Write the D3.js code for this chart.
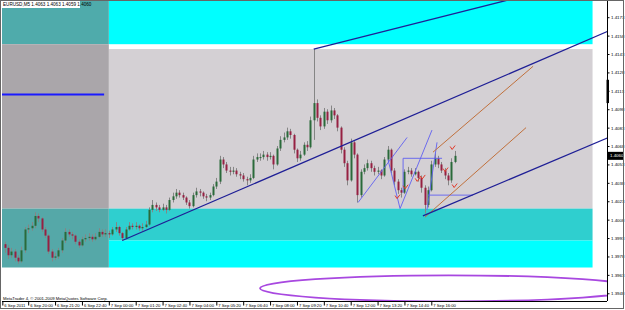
<!DOCTYPE html>
<html>
<head>
<meta charset="utf-8">
<script src="https://cdn.jsdelivr.net/npm/d3@7"></script>
<style>
  body { margin: 0; background: #fff; }
  svg { display: block; }
  text { font-family: "Liberation Sans", Arial, sans-serif; }
</style>
</head>
<body>
<svg id="chart" width="625" height="310"></svg>
<script>
// EURUSD M5, 6-7 Sep 2011 (bars grouped by 10 minutes)
var barStart = "2011-09-06 18:50";
var opens = [
  1.3988,1.3985,1.3979,1.3982,1.3977,1.3974,1.3983,1.4000,1.4001,1.4003,
  1.4011,1.4009,1.4000,1.3995,1.3982,1.3977,1.3978,1.3983,1.3991,1.3998,
  1.3996,1.3995,1.3990,1.3987,1.3992,1.3993,1.3994,1.3992,1.3994,1.3998,
  1.3996,1.3997,1.3996,1.4000,1.4002,1.3997,1.3993,1.4000,1.4003,1.4002,
  1.4003,1.4001,1.4002,1.4004,1.4016,1.4020,1.4018,1.4016,1.4018,1.4016,
  1.4024,1.4027,1.4030,1.4028,1.4026,1.4022,1.4019,1.4028,1.4031,1.4030,
  1.4027,1.4026,1.4028,1.4035,1.4039,1.4057,1.4053,1.4048,1.4047,1.4048,
  1.4045,1.4044,1.4041,1.4040,1.4042,1.4057,1.4059,1.4059,1.4061,1.4059,
  1.4060,1.4053,1.4066,1.4073,1.4075,1.4080,1.4077,1.4065,1.4058,1.4061,
  1.4069,1.4067,1.4089,1.4103,1.4091,1.4084,1.4096,1.4089,1.4097,1.4093,
  1.4083,1.4065,1.4054,1.4040,1.4071,1.4061,1.4028,1.4047,1.4050,1.4054,
  1.4050,1.4047,1.4048,1.4044,1.4057,1.4065,1.4048,1.4039,1.4032,1.4030,
  1.4047,1.4048,1.4045,1.4047,1.4042,1.4034,1.4020,1.4032,1.4053,1.4058,
  1.4053,1.4048,1.4044,1.4040,1.4055
];
var highs = [
  1.3990,1.3987,1.3985,1.3984,1.3979,1.3986,1.4002,1.4004,1.4006,1.4014,
  1.4013,1.4010,1.4002,1.3996,1.3984,1.3981,1.3985,1.3993,1.4001,1.4000,
  1.3998,1.3996,1.3992,1.3994,1.3996,1.3997,1.3996,1.3997,1.4001,1.4000,
  1.4000,1.3999,1.4002,1.4006,1.4003,1.3998,1.4002,1.4006,1.4005,1.4006,
  1.4004,1.4005,1.4007,1.4018,1.4024,1.4022,1.4020,1.4021,1.4020,1.4026,
  1.4030,1.4033,1.4032,1.4030,1.4027,1.4024,1.4030,1.4034,1.4033,1.4031,
  1.4029,1.4030,1.4037,1.4042,1.4060,1.4059,1.4055,1.4051,1.4051,1.4050,
  1.4047,1.4046,1.4043,1.4045,1.4060,1.4062,1.4062,1.4064,1.4063,1.4063,
  1.4061,1.4068,1.4076,1.4079,1.4083,1.4082,1.4078,1.4066,1.4064,1.4071,
  1.4072,1.4092,1.4147,1.4106,1.4093,1.4099,1.4098,1.4101,1.4099,1.4094,
  1.4084,1.4067,1.4056,1.4074,1.4072,1.4062,1.4049,1.4053,1.4057,1.4056,
  1.4052,1.4051,1.4049,1.4059,1.4068,1.4066,1.4050,1.4041,1.4034,1.4049,
  1.4051,1.4050,1.4050,1.4048,1.4044,1.4036,1.4035,1.4056,1.4062,1.4060,
  1.4055,1.4050,1.4046,1.4058,1.4064
];
var lows = [
  1.3981,1.3976,1.3977,1.3974,1.3972,1.3973,1.3981,1.3997,1.3999,1.4001,
  1.4006,1.3998,1.3993,1.3980,1.3974,1.3975,1.3976,1.3981,1.3989,1.3994,
  1.3992,1.3988,1.3985,1.3986,1.3990,1.3991,1.3990,1.3991,1.3993,1.3994,
  1.3994,1.3993,1.3995,1.3998,1.3995,1.3991,1.3992,1.3999,1.4000,1.4000,
  1.3999,1.3999,1.4001,1.4003,1.4014,1.4015,1.4014,1.4015,1.4013,1.4015,
  1.4022,1.4025,1.4026,1.4024,1.4020,1.4017,1.4018,1.4026,1.4027,1.4025,
  1.4023,1.4024,1.4027,1.4033,1.4037,1.4050,1.4046,1.4044,1.4045,1.4043,
  1.4041,1.4039,1.4036,1.4038,1.4041,1.4055,1.4056,1.4057,1.4056,1.4057,
  1.4049,1.4052,1.4064,1.4071,1.4073,1.4074,1.4062,1.4055,1.4056,1.4060,
  1.4064,1.4066,1.4073,1.4088,1.4081,1.4082,1.4086,1.4087,1.4090,1.4080,
  1.4062,1.4051,1.4036,1.4039,1.4058,1.4022,1.4026,1.4045,1.4048,1.4047,
  1.4044,1.4045,1.4041,1.4043,1.4055,1.4046,1.4036,1.4029,1.4026,1.4029,
  1.4045,1.4043,1.4044,1.4039,1.4030,1.4013,1.4018,1.4031,1.4051,1.4050,
  1.4046,1.4041,1.4036,1.4038,1.4054
];
var closes = [
  1.3985,1.3979,1.3982,1.3977,1.3974,1.3983,1.4000,1.4001,1.4003,1.4011,
  1.4009,1.4000,1.3995,1.3982,1.3977,1.3978,1.3983,1.3991,1.3998,1.3996,
  1.3995,1.3990,1.3987,1.3992,1.3993,1.3994,1.3992,1.3994,1.3998,1.3996,
  1.3997,1.3996,1.4000,1.4002,1.3997,1.3993,1.4000,1.4003,1.4002,1.4003,
  1.4001,1.4002,1.4004,1.4016,1.4020,1.4018,1.4016,1.4018,1.4016,1.4024,
  1.4027,1.4030,1.4028,1.4026,1.4022,1.4019,1.4028,1.4031,1.4030,1.4027,
  1.4026,1.4028,1.4035,1.4039,1.4057,1.4053,1.4048,1.4047,1.4048,1.4045,
  1.4044,1.4041,1.4040,1.4042,1.4057,1.4059,1.4059,1.4061,1.4059,1.4060,
  1.4053,1.4066,1.4073,1.4075,1.4080,1.4077,1.4065,1.4058,1.4061,1.4069,
  1.4067,1.4089,1.4103,1.4091,1.4084,1.4096,1.4089,1.4097,1.4093,1.4083,
  1.4065,1.4054,1.4040,1.4071,1.4061,1.4028,1.4047,1.4050,1.4054,1.4050,
  1.4047,1.4048,1.4044,1.4057,1.4065,1.4048,1.4039,1.4032,1.4030,1.4047,
  1.4048,1.4045,1.4047,1.4042,1.4034,1.4020,1.4032,1.4053,1.4058,1.4053,
  1.4048,1.4044,1.4040,1.4055,1.4060
];

// axis labels
var priceTicks = [1.4173,1.4158,1.4143,1.4128,1.4113,1.4098,1.4083,1.4068,
                  1.4053,1.4038,1.4023,1.4008,1.3993,1.3978,1.3963,1.3948];
var timeTicks = ["2011-09-06 18:43","2011-09-06 20:00","2011-09-06 21:20","2011-09-06 22:40",
  "2011-09-07 00:00","2011-09-07 01:20","2011-09-07 02:40","2011-09-07 04:00",
  "2011-09-07 05:20","2011-09-07 06:40","2011-09-07 08:00","2011-09-07 09:20",
  "2011-09-07 10:40","2011-09-07 12:00","2011-09-07 13:20","2011-09-07 14:40","2011-09-07 16:00"];
var timeLabels = ["6 Sep 2011","6 Sep 20:00","6 Sep 21:20","6 Sep 22:40",
  "7 Sep 00:00","7 Sep 01:20","7 Sep 02:40","7 Sep 04:00",
  "7 Sep 05:20","7 Sep 06:40","7 Sep 08:00","7 Sep 09:20",
  "7 Sep 10:40","7 Sep 12:00","7 Sep 13:20","7 Sep 14:40","7 Sep 16:00"];
var lastPrice = 1.4060;
var header = "EURUSD,M5  1.4063 1.4063 1.4059 1.4060";

// drawn objects: rectangles [from, to, price low, price high]
var zoneTimes = [
  ["2011-09-07 00:00", "2011-09-08 00:00", 1.4151, 1.4200],
  ["2011-09-07 00:00", "2011-09-08 00:00", 1.4017, 1.4147],
  ["2011-09-07 00:00", "2011-09-08 00:00", 1.3991, 1.4017],
  ["2011-09-07 00:00", "2011-09-08 00:00", 1.3969, 1.3991],
  ["2011-09-06 18:00", "2011-09-07 00:00", 1.4151, 1.4200],
  ["2011-09-06 18:00", "2011-09-07 00:00", 1.4017, 1.4151],
  ["2011-09-06 18:00", "2011-09-07 00:00", 1.3969, 1.4017]
];
var zoneColors = ["#00ffff", "#d4d0d4", "#2fcfcf", "#00ffff", "#4fabab", "#aaa6aa", "#55a8a8"];

// trend lines [t1, p1, t2, p2]
var channelLines = [
  ["2011-09-07 10:10", 1.4147, "2011-09-07 19:16", 1.4185],
  ["2011-09-07 00:40", 1.3991, "2011-09-07 16:00", 1.4100],
  ["2011-09-07 15:35", 1.4011, "2011-09-07 20:00", 1.4042]
];
var forkLines = [
  ["2011-09-07 16:05", 1.4063, "2011-09-07 21:03", 1.4133],
  ["2011-09-07 15:41", 1.4010, "2011-09-07 20:42", 1.4083]
];
var thinLines = [
  ["2011-09-07 12:22", 1.4022, "2011-09-07 14:48", 1.4075],
  ["2011-09-07 13:51", 1.4057, "2011-09-07 14:27", 1.4017],
  ["2011-09-07 14:27", 1.4017, "2011-09-07 16:02", 1.4081],
  ["2011-09-07 15:47", 1.4016, "2011-09-07 16:17", 1.4071],
  ["2011-09-07 14:36", 1.4058, "2011-09-07 16:32", 1.4058],
  ["2011-09-07 14:36", 1.4058, "2011-09-07 14:36", 1.4030],
  ["2011-09-07 15:50", 1.4028, "2011-09-07 18:04", 1.4028]
];
var levelLine = ["2011-09-06 18:00", "2011-09-06 23:46", 1.4110];
var ellipse = ["2011-09-07 07:30", "2011-09-08 02:15", 1.3952, 0.00106];
var arrowTimes = ["2011-09-07 14:18","2011-09-07 14:42","2011-09-07 15:18","2011-09-07 15:33",
                  "2011-09-07 16:41","2011-09-07 17:02","2011-09-07 17:08"];
var arrowPrices = [1.4026, 1.4034, 1.4040, 1.4042, 1.4048, 1.4066, 1.4035];

var parse = d3.timeParse("%Y-%m-%d %H:%M");
var svg = d3.select("#chart");

var x = d3.scaleTime()
    .domain([parse("2011-09-06 18:42"), parse("2011-09-08 00:43")])
    .range([2, 607]);
var y = d3.scaleLinear().domain([1.39417, 1.41862]).range([301, 1]);

var bars = closes.map(function (c, i) {
    return { t: d3.timeMinute.offset(parse(barStart), 10 * i), o: opens[i], h: highs[i], l: lows[i], c: c };
});

svg.append("defs").append("clipPath").attr("id", "plot")
    .append("rect").attr("x", 2).attr("y", 1).attr("width", 605).attr("height", 300);

var plot = svg.append("g").attr("clip-path", "url(#plot)");

// rectangles
plot.selectAll(".zone").data(zoneTimes).enter().append("rect")
    .attr("x", function (d) { return x(parse(d[0])); })
    .attr("width", function (d) { return x(parse(d[1])) - x(parse(d[0])); })
    .attr("y", function (d) { return y(d[3]); })
    .attr("height", function (d) { return y(d[2]) - y(d[3]); })
    .attr("fill", function (d, i) { return zoneColors[i]; });

plot.append("line")
    .attr("x1", x(parse(levelLine[0]))).attr("x2", x(parse(levelLine[1])))
    .attr("y1", y(levelLine[2])).attr("y2", y(levelLine[2]))
    .attr("stroke", "#1a1aff").attr("stroke-width", 2);

// candles
var candle = plot.selectAll(".bar").data(bars).enter().append("g").attr("class", "bar");
candle.append("line")
    .attr("x1", function (d) { return Math.round(x(d.t)) + 0.5; })
    .attr("x2", function (d) { return Math.round(x(d.t)) + 0.5; })
    .attr("y1", function (d) { return y(d.h); })
    .attr("y2", function (d) { return y(d.l); })
    .attr("stroke", "#858585").attr("stroke-width", 1);
candle.append("rect")
    .attr("x", function (d) { return Math.round(x(d.t)) - 0.5; })
    .attr("width", 2)
    .attr("y", function (d) { return y(Math.max(d.o, d.c)); })
    .attr("height", function (d) { return Math.max(1, y(Math.min(d.o, d.c)) - y(Math.max(d.o, d.c))); })
    .attr("fill", function (d) { return d.c >= d.o ? "#2a6a3a" : "#962042"; });

// lines
function seg(g, data, color, width, ray) {
    g.selectAll(null).data(data).enter().append("line")
        .attr("x1", function (d) { return x(parse(d[0])); })
        .attr("y1", function (d) { return y(d[1]); })
        .attr("x2", function (d) {
            return ray ? x.range()[1] + 2 : x(parse(d[2]));
        })
        .attr("y2", function (d) {
            if (!ray) return y(d[3]);
            var t1 = parse(d[0]), t2 = parse(d[2]), te = x.domain()[1];
            var pe = d[1] + (d[3] - d[1]) * (te - t1) / (t2 - t1);
            return y(pe);
        })
        .attr("stroke", color).attr("stroke-width", width);
}
seg(plot, thinLines, "#6060f0", 0.9, false);
seg(plot, forkLines, "#c0703c", 1, false);
seg(plot, channelLines, "#1f1f96", 1.3, true);

// arrows
plot.selectAll(".arrow").data(arrowTimes).enter().append("path")
    .attr("transform", function (d, i) { return "translate(" + x(parse(d)) + "," + y(arrowPrices[i]) + ")"; })
    .attr("d", "M-2,-2L0,1L3,-3")
    .attr("fill", "none").attr("stroke", "#e23a2a").attr("stroke-width", 1);

// ellipse
var ex1 = x(parse(ellipse[0])), ex2 = x(parse(ellipse[1]));
plot.append("ellipse")
    .attr("cx", (ex1 + ex2) / 2).attr("rx", (ex2 - ex1) / 2)
    .attr("cy", y(ellipse[2])).attr("ry", y(ellipse[2] - ellipse[3]) - y(ellipse[2]))
    .attr("fill", "none").attr("stroke", "#a848e0").attr("stroke-width", 1.8);

// header
svg.append("rect").attr("x", 2).attr("y", 1).attr("width", 78).attr("height", 7).attr("fill", "#fff");
svg.append("text").attr("x", 3).attr("y", 6.3).attr("font-size", 4.6).attr("fill", "#000").text(header);

svg.append("text").attr("x", 3).attr("y", 299.5).attr("font-size", 4.2).attr("fill", "#000")
    .text("MetaTrader 4, \u00a9 2001-2009 MetaQuotes Software Corp.");

// price axis
var yAxis = d3.axisRight(y).tickValues(priceTicks).tickFormat(d3.format(".4f")).tickSize(2).tickPadding(1.5);
var ya = svg.append("g").attr("transform", "translate(607.5,0)").call(yAxis);
ya.select(".domain").attr("d", "M0,1V301").attr("stroke", "#000");
ya.selectAll("text").attr("font-size", 4.4).attr("font-family", "Liberation Sans, Arial, sans-serif").attr("fill", "#000");

svg.append("rect").attr("x", 606.5).attr("width", 2.5)
    .attr("y", y(1.4122)).attr("height", y(1.4103) - y(1.4122)).attr("fill", "#000");

svg.append("rect").attr("x", 608).attr("y", y(lastPrice) - 4).attr("width", 16).attr("height", 8).attr("fill", "#000");
svg.append("text").attr("x", 610).attr("y", y(lastPrice) + 1.6).attr("font-size", 4.4).attr("fill", "#fff")
    .text(d3.format(".4f")(lastPrice));

// time axis
var xAxis = d3.axisBottom(x).tickValues(timeTicks.map(parse))
    .tickFormat(function (d, i) { return timeLabels[i]; }).tickSize(4).tickPadding(0);
var xa = svg.append("g").attr("transform", "translate(0,301.5)").call(xAxis);
xa.select(".domain").attr("d", "M2,0H607").attr("stroke", "#000");
xa.selectAll("text").attr("font-size", 4.2).attr("text-anchor", "start").attr("dx", 1.5).attr("dy", "0.3em")
    .attr("font-family", "Liberation Sans, Arial, sans-serif").attr("fill", "#000");

// window frame
svg.append("rect").attr("x", 0.5).attr("y", 0.5).attr("width", 623).attr("height", 308)
    .attr("fill", "none").attr("stroke", "#666");
</script>
</body>
</html>
